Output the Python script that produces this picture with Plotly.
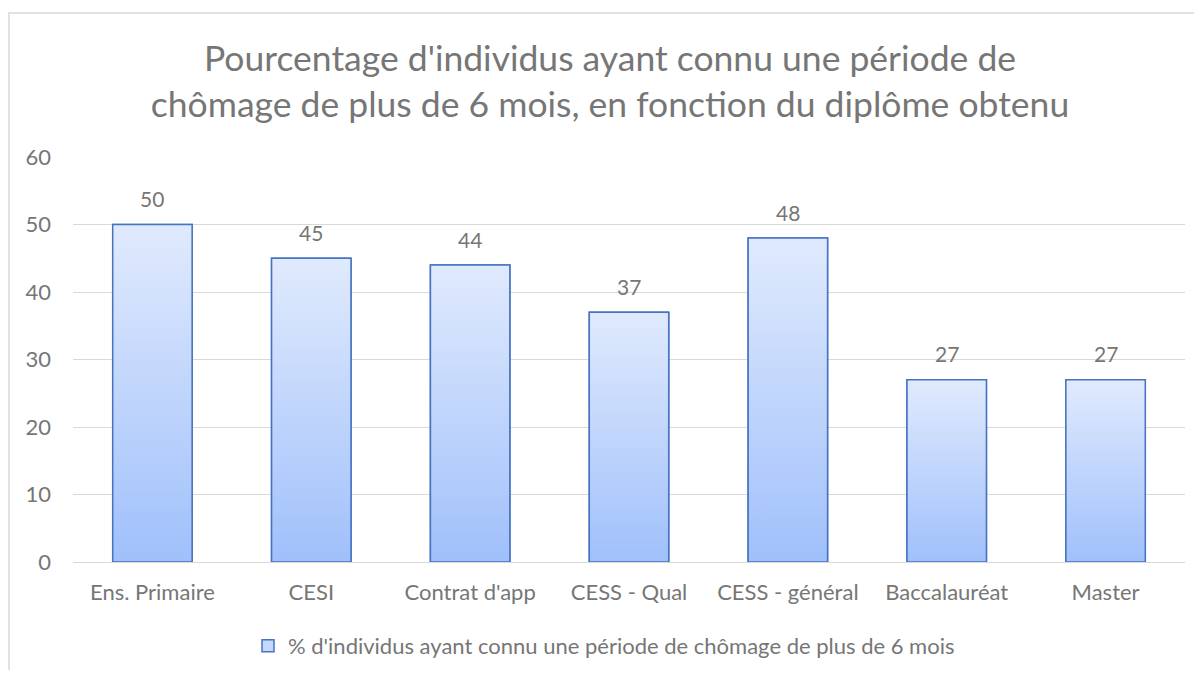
import plotly.graph_objects as go

categories = ["Ens. Primaire", "CESI", "Contrat d'app", "CESS - Qual",
              "CESS - général", "Baccalauréat", "Master"]
values = [50, 45, 44, 37, 48, 27, 27]
series_name = "% d'individus ayant connu une période de chômage de plus de 6 mois"
title_lines = ["Pourcentage d'individus ayant connu une période de",
               "chômage de plus de 6 mois, en fonction du diplôme obtenu"]

FONT = "Lato"
TXT = "#767676"
EDGE = "#4673c2"
TOP_C = "#e0eafd"
BOT_C = "#a0c0fb"
HALF = 0.25

# page body has an 8px margin; figure coordinates = screen - 8
W, H = 1194, 662
L, R, T, B = 65, 17, 149, 108

fig = go.Figure()

fig.add_trace(go.Bar(
    x=list(range(len(categories))), y=values, name=series_name,
    width=2 * HALF,
    marker=dict(color="#c4d7fc", line=dict(color=EDGE, width=1.5)),
    hoverinfo="skip", showlegend=True,
))

for i, v in enumerate(values):
    fig.add_trace(go.Scatter(
        x=[i - HALF, i + HALF, i + HALF, i - HALF, i - HALF],
        y=[0, 0, v, v, 0],
        mode="lines", fill="toself",
        fillgradient=dict(type="vertical",
                          colorscale=[[0, BOT_C], [1, TOP_C]]),
        line=dict(color=EDGE, width=1.5),
        hoverinfo="skip", showlegend=False,
    ))

for i, v in enumerate(values):
    fig.add_annotation(x=i, y=v, text=str(v), showarrow=False,
                       yanchor="middle", yshift=26,
                       font=dict(family=FONT, size=21, color=TXT))

pw, ph = W - L - R, H - T - B
fig.add_shape(type="rect", xref="paper", yref="paper",
              x0=(1 - L) / pw, x1=(1215 - L) / pw,
              y0=(H - B - 700) / ph, y1=(H - B - 5) / ph,
              line=dict(color="#d9d9d9", width=1.5), fillcolor="rgba(0,0,0,0)",
              layer="below")

fig.update_layout(
    width=W, height=H,
    margin=dict(l=L, r=R, t=T, b=B, autoexpand=False),
    paper_bgcolor="white", plot_bgcolor="white",
    font=dict(family=FONT, color=TXT),
    title=dict(text="<br>".join(title_lines), x=602 / W, xanchor="center",
               y=1 - 63 / H, yanchor="middle", yref="container",
               font=dict(family=FONT, size=35.5, color=TXT)),
    xaxis=dict(tickmode="array", tickvals=list(range(len(categories))),
               ticktext=categories, range=[-0.5, len(categories) - 0.5],
               showgrid=False, zeroline=False, showline=False,
               ticks="", tickfont=dict(family=FONT, size=22, color=TXT),
               ticklabelstandoff=15, automargin=False),
    yaxis=dict(range=[0, 60], dtick=10, showgrid=True, gridcolor="#d9d9d9",
               gridwidth=1.2, zeroline=True, zerolinecolor="#d9d9d9",
               zerolinewidth=1.2, showline=False, ticks="",
               tickfont=dict(family=FONT, size=22, color=TXT),
               ticklabelstandoff=21, automargin=False),
    legend=dict(orientation="h", x=(240 - L) / pw, xanchor="left",
                y=(H - B - 638) / ph, yanchor="middle",
                font=dict(family=FONT, size=22, color=TXT)),
    bargap=0.5,
)

fig.write_html("out.html")
